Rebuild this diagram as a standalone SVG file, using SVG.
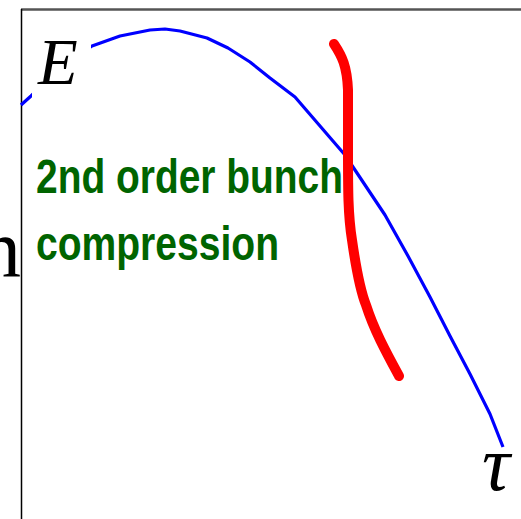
<svg xmlns="http://www.w3.org/2000/svg" width="521" height="519" viewBox="0 0 521 519">
<style>
.frame-top{stroke:#555;stroke-width:2.5;fill:none}
.frame-left{stroke:#000;stroke-width:1.5;fill:none}
.beam{stroke:#00f;stroke-width:3.2;fill:none;stroke-linejoin:round}
.bunch{stroke:#f00;stroke-width:10;fill:none;stroke-linecap:round;stroke-linejoin:round}
.sym{font-family:"Liberation Serif",serif;font-style:italic;fill:#000}
.lbl{font-family:"Liberation Sans",Arial,sans-serif;font-weight:bold;fill:#006400;font-size:48px}
</style>
<rect width="521" height="519" fill="#fff"/>
<g id="frame">
<line class="frame-top" x1="21" y1="9.5" x2="521" y2="9.5"/>
<line class="frame-left" x1="21.5" y1="9" x2="21.5" y2="519"/>
</g>
<g id="connectors">
<path id="energy-curve" class="beam" d="M21,105 L31,96 L60,68 L92,46 L120,36 L150,30 L165,29 L180,31 L207,38 L228,48 L250,62 L270,78 L295,97 L320,126 L345,155 L365,185 L385,215 L408,256 L430,297 L450,336 L470,374 L490,414 L503,447"/>
<path id="bunch-curve" class="bunch" d="M334,44 C342,56 347,66 348,90 L348,150 C348,190 348,215 352,240 C356,268 360,290 366,305 C374,330 386,352 399,376"/>
</g>
<g id="label-E">
<rect x="32" y="38" width="59" height="60" fill="#fff"/>
<text class="sym" x="38" y="84" font-size="65">E</text>
</g>
<g id="label-tau">
<text class="sym" x="482" y="490" font-size="78">τ</text>
</g>
<g id="label-n">
<text x="-20" y="276" font-family="Liberation Serif,serif" font-size="82" fill="#000">n</text>
</g>
<g id="label-compression">
<text class="lbl" x="36" y="193" textLength="307" lengthAdjust="spacingAndGlyphs">2nd order bunch</text>
<text class="lbl" x="36" y="260" textLength="243" lengthAdjust="spacingAndGlyphs">compression</text>
</g>
</svg>
